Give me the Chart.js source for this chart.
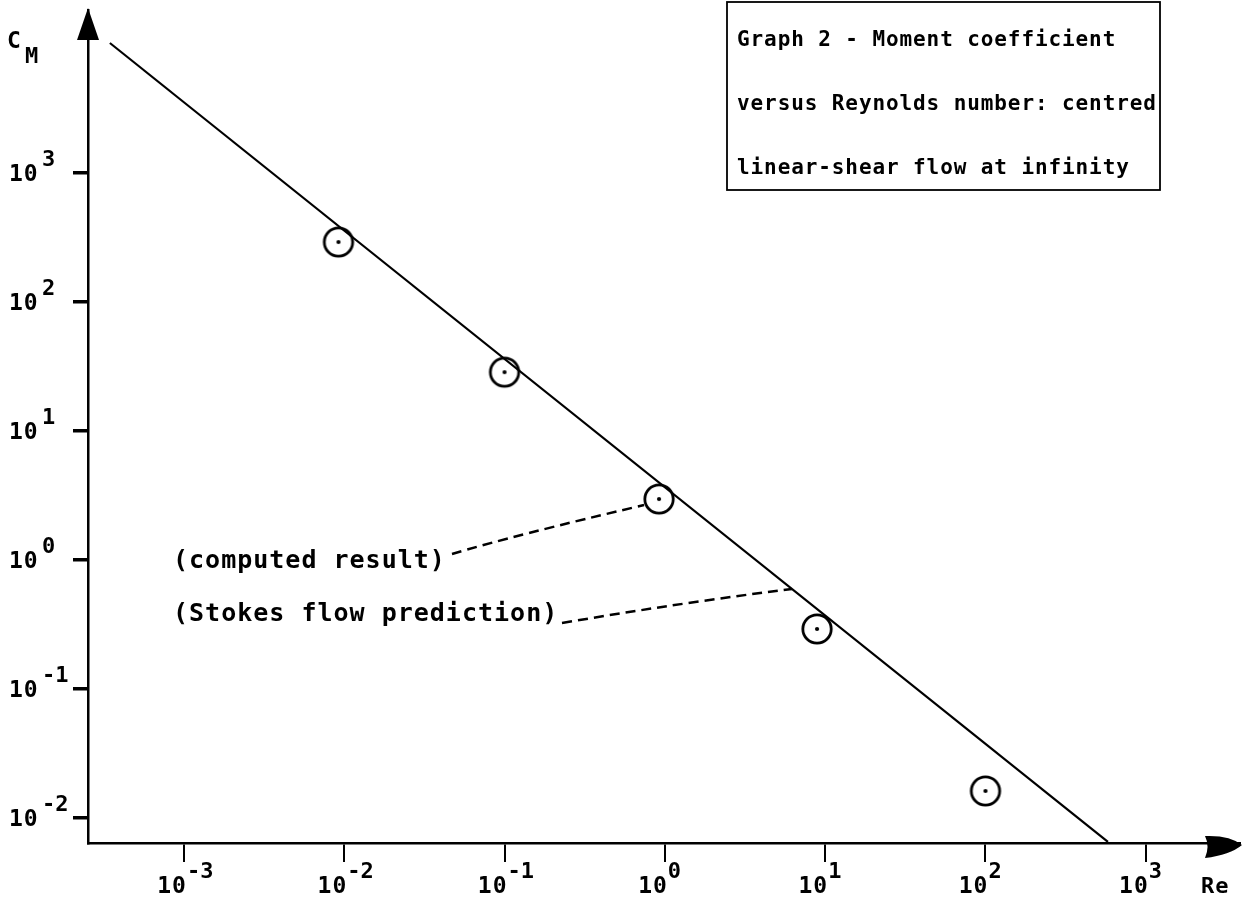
<!DOCTYPE html>
<html><head><meta charset="utf-8">
<script src="https://cdn.jsdelivr.net/npm/chart.js@4/dist/chart.umd.min.js"></script>
<style>html,body{margin:0;padding:0;background:#fff;overflow:hidden}canvas{display:block}</style>
</head><body>
<canvas id="c" width="1252" height="903" style="width:1252px;height:903px"></canvas>
<script>
// ---- data ----
const computedRe = [0.0092, 0.1, 0.92, 8.9, 100];
const computedCM = [292, 28.6, 2.97, 0.292, 0.0162];
const stokesRe = [3.45e-4, 581];
const stokesCM = [10190, 0.00652];
const xTickValues = [1e-3, 1e-2, 1e-1, 1, 10, 100, 1000];
const xTickExponents = ['-3', '-2', '-1', '0', '1', '2', '3'];
const yTickValues = [1e-2, 1e-1, 1, 10, 100, 1000];
const yTickExponents = ['-2', '-1', '0', '1', '2', '3'];
const xRange = [2.52e-4, 3873];
const yRange = [0.0064, 18365];
const titleLines = ['Graph 2 - Moment coefficient', 'versus Reynolds number: centred', 'linear-shear flow at infinity'];
const labelComputed = '(computed result)';
const labelStokes = '(Stokes flow prediction)';
const leaderStokesRe = 6.2;

const FONT = '"DejaVu Sans Mono", "Liberation Mono", monospace';

// point symbol: circle with centre dot
function makeSymbol() {
  const c = document.createElement('canvas');
  c.width = 36; c.height = 36;
  const g = c.getContext('2d');
  g.strokeStyle = '#000'; g.lineWidth = 2.8;
  g.beginPath(); g.arc(18, 18, 14.2, 0, Math.PI * 2); g.stroke();
  g.fillStyle = '#000';
  g.beginPath(); g.arc(18, 18, 2.1, 0, Math.PI * 2); g.fill();
  return c;
}

function txt(ctx, s, x, y, size, align, spacing, weight) {
  ctx.font = (weight || 'bold') + ' ' + size + 'px ' + FONT;
  ctx.textAlign = align || 'left';
  ctx.textBaseline = 'alphabetic';
  ctx.letterSpacing = (spacing || 0) + 'px';
  ctx.fillText(s, x, y);
  ctx.letterSpacing = '0px';
}

const decor = {
  id: 'decor',
  afterDraw(chart) {
    const ctx = chart.ctx;
    const xs = chart.scales.x, ys = chart.scales.y;
    const ca = chart.chartArea;
    ctx.save();
    ctx.fillStyle = '#000';
    ctx.strokeStyle = '#000';

    // y arrow head
    ctx.beginPath();
    ctx.moveTo(ca.left, ca.top - 2);
    ctx.lineTo(ca.left - 11, ca.top + 30);
    ctx.lineTo(ca.left + 11, ca.top + 30);
    ctx.closePath(); ctx.fill();
    // x arrow head
    const ay = ca.bottom + 2;
    ctx.beginPath();
    ctx.moveTo(ca.right + 2, ay);
    ctx.quadraticCurveTo(ca.right - 10, ay - 10, ca.right - 35, ay - 9);
    ctx.quadraticCurveTo(ca.right - 30, ay + 1, ca.right - 35, ay + 13);
    ctx.quadraticCurveTo(ca.right - 10, ay + 10, ca.right + 2, ay);
    ctx.closePath(); ctx.fill();

    // y tick labels
    yTickValues.forEach((v, i) => {
      const py = ys.getPixelForValue(v);
      txt(ctx, '10', 9, py + 8, 23, 'left', 1);
      txt(ctx, yTickExponents[i], 42, py - 7, 22, 'left', 0);
    });
    // x tick labels
    xTickValues.forEach((v, i) => {
      const px = xs.getPixelForValue(v);
      txt(ctx, '10', px + 3, ca.bottom + 50, 23, 'right', 1);
      txt(ctx, xTickExponents[i], px + 3, ca.bottom + 35, 22, 'left', 0);
    });
    // axis titles
    txt(ctx, 'C', 7, 48, 23, 'left', 0);
    txt(ctx, 'M', 25, 63, 22, 'left', 0);
    txt(ctx, 'Re', 1201, ca.bottom + 50, 22, 'left', 1);

    // title box
    ctx.lineWidth = 1.8;
    ctx.strokeRect(727, 2, 433, 188);
    titleLines.forEach((s, i) => txt(ctx, s, 737, 46 + i * 64, 21, 'left', 0.9));

    // annotation labels
    txt(ctx, labelComputed, 173, 568, 25, 'left', 1);
    txt(ctx, labelStokes, 173, 621, 25, 'left', 1);

    // leader lines
    ctx.lineWidth = 2.5;
    ctx.setLineDash([10, 6]);
    // to computed point 3
    const p3x = xs.getPixelForValue(computedRe[2]) - 15;
    const p3y = ys.getPixelForValue(computedCM[2]) + 6;
    ctx.beginPath();
    ctx.moveTo(452, 554);
    ctx.quadraticCurveTo(516, 535, p3x, p3y);
    ctx.stroke();
    // to Stokes line
    const lr = Math.log10(leaderStokesRe);
    const t = (lr - Math.log10(stokesRe[0])) / (Math.log10(stokesRe[1]) - Math.log10(stokesRe[0]));
    const lc = Math.log10(stokesCM[0]) + t * (Math.log10(stokesCM[1]) - Math.log10(stokesCM[0]));
    const sx = xs.getPixelForValue(leaderStokesRe), sy = ys.getPixelForValue(Math.pow(10, lc));
    ctx.beginPath();
    ctx.moveTo(562, 623);
    ctx.quadraticCurveTo(680, 603, sx, sy);
    ctx.stroke();
    ctx.setLineDash([]);
    ctx.restore();
  }
};

new Chart(document.getElementById('c'), {
  type: 'scatter',
  data: {
    datasets: [
      {
        type: 'line',
        label: 'Stokes flow prediction',
        data: stokesRe.map((x, i) => ({ x: x, y: stokesCM[i] })),
        borderColor: '#000', borderWidth: 2.2, pointRadius: 0, fill: false, tension: 0
      },
      {
        label: 'computed result',
        data: computedRe.map((x, i) => ({ x: x, y: computedCM[i] })),
        pointStyle: makeSymbol(), showLine: false
      }
    ]
  },
  options: {
    responsive: false, animation: false, devicePixelRatio: 1,
    layout: { padding: { top: 10, right: 12, left: 0, bottom: 0 } },
    plugins: { legend: { display: false }, tooltip: { enabled: false } },
    scales: {
      x: {
        type: 'logarithmic', position: 'bottom', min: xRange[0], max: xRange[1],
        afterBuildTicks: s => { s.ticks = xTickValues.map(v => ({ value: v })); },
        afterFit: s => { s.height = 60; },
        ticks: { display: false, autoSkip: false },
        grid: { display: true, drawOnChartArea: false, drawTicks: true, tickLength: 19, color: '#000', lineWidth: 2 },
        border: { display: true, color: '#000', width: 2.5 }
      },
      y: {
        type: 'logarithmic', position: 'left', min: yRange[0], max: yRange[1],
        afterBuildTicks: s => { s.ticks = yTickValues.map(v => ({ value: v })); },
        afterFit: s => { s.width = 88; },
        ticks: { display: false, autoSkip: false },
        grid: { display: true, drawOnChartArea: false, drawTicks: true, tickLength: 15, color: '#000', lineWidth: 3.5 },
        border: { display: true, color: '#000', width: 2.5 }
      }
    }
  },
  plugins: [decor]
});
</script>
</body></html>
